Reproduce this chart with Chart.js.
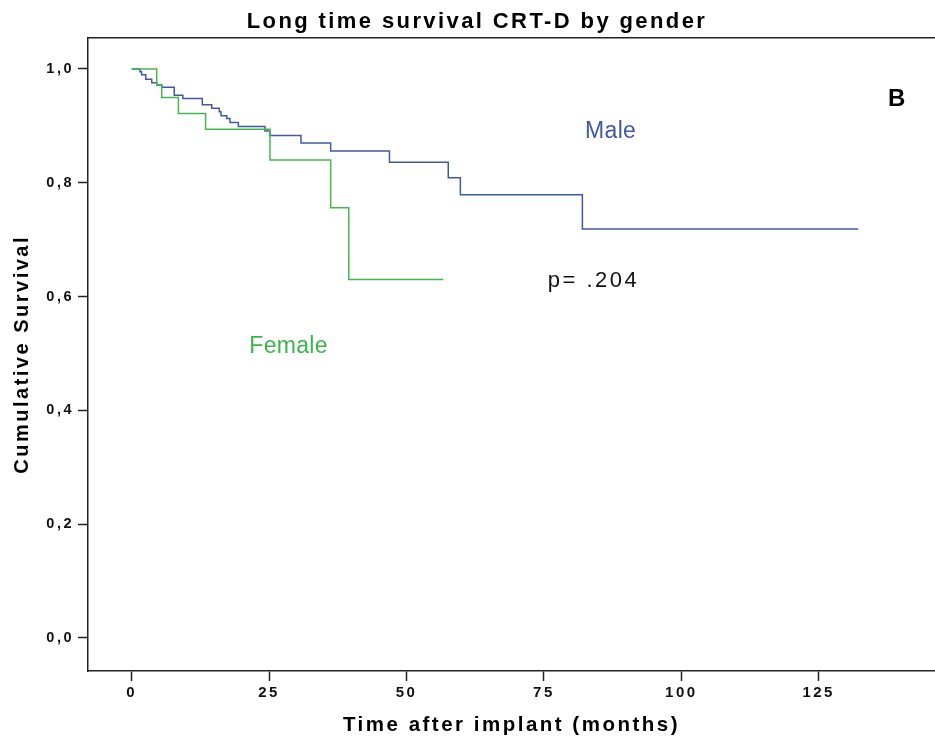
<!DOCTYPE html>
<html>
<head>
<meta charset="utf-8">
<title>Long time survival CRT-D by gender</title>
<script src="https://cdn.jsdelivr.net/npm/chart.js@4.4.1/dist/chart.umd.min.js"></script>
<style>
  html, body { margin: 0; padding: 0; background: #fff; }
  canvas { display: block; }
</style>
</head>
<body>
<canvas id="km" width="935" height="742"></canvas>
<script>
// Kaplan-Meier steps (months, cumulative survival)
const maleTime = [0, 1.5, 1.8, 2.55, 3.64, 4.55, 5.46, 7.75, 9.3, 12.85, 14.56, 15.94, 16.25, 17.29, 17.89, 19.4, 24.25, 25.16, 30.8, 36.2, 46.9, 57.6, 59.8, 82.0, 132.2];
const maleSurv = [1.0, 0.995, 0.99, 0.982, 0.976, 0.972, 0.968, 0.954, 0.948, 0.937, 0.931, 0.925, 0.918, 0.913, 0.906, 0.899, 0.891, 0.883, 0.87, 0.856, 0.836, 0.809, 0.779, 0.719, 0.719];

const femaleTime = [0, 4.55, 5.46, 8.5, 13.45, 25.16, 36.2, 39.5, 56.7];
const femaleSurv = [1.0, 0.972, 0.95, 0.922, 0.894, 0.84, 0.756, 0.63, 0.63];

const xTicks = [0, 25, 50, 75, 100, 125];
const yTicks = [0, 0.2, 0.4, 0.6, 0.8, 1.0];

const chartTitle = 'Long time survival CRT-D by gender';

const BLUE = '#4158a6';
const GREEN = '#45b74f';
const AXIS = '#222';

// text placed in data units: [text, x, y, colour, font, spacing]
const notes = [
  ['Male', 82.5, 0.889, '#4057a5', '23px "Liberation Sans", Arial', '0.3px'],
  ['Female', 21.4, 0.512, '#3bb54a', '23px "Liberation Sans", Arial', '0.3px'],
  ['p= .204', 75.7, 0.627, '#111', '22px "Liberation Sans", Arial', '2.5px'],
  ['B', 137.6, 0.946, '#000', 'bold 24px "Liberation Sans", Arial', '0px'],
];

const toPoints = (ts, ss) => ts.map((t, i) => ({ x: t, y: ss[i] }));

Chart.defaults.font.family = '"Liberation Sans", Arial, sans-serif';

const spssText = {
  id: 'spssText',
  beforeDraw(chart) {
    chart.ctx.letterSpacing = '2.5px';
  },
  afterDraw(chart) {
    const { ctx, chartArea, scales } = chart;
    ctx.save();
    // top frame line
    ctx.strokeStyle = AXIS;
    ctx.lineWidth = 1.5;
    ctx.beginPath();
    ctx.moveTo(chartArea.left, chartArea.top);
    ctx.lineTo(chartArea.right, chartArea.top);
    ctx.stroke();

    // chart title
    ctx.letterSpacing = '2.4px';
    ctx.font = 'bold 22px "Liberation Sans", Arial';
    ctx.fillStyle = '#000';
    ctx.textAlign = 'center';
    ctx.textBaseline = 'alphabetic';
    ctx.fillText(chartTitle, 477, 28);

    ctx.textAlign = 'left';
    ctx.textBaseline = 'middle';
    notes.forEach(([text, x, y, color, font, spacing]) => {
      ctx.letterSpacing = spacing;
      ctx.font = font;
      ctx.fillStyle = color;
      ctx.fillText(text, scales.x.getPixelForValue(x), scales.y.getPixelForValue(y));
    });
    ctx.restore();
  }
};

new Chart(document.getElementById('km'), {
  type: 'line',
  data: {
    datasets: [
      {
        label: 'Female',
        data: toPoints(femaleTime, femaleSurv),
        borderColor: GREEN,
        borderWidth: 1.5,
        stepped: 'before',
        pointRadius: 0,
        fill: false,
      },
      {
        label: 'Male',
        data: toPoints(maleTime, maleSurv),
        borderColor: BLUE,
        borderWidth: 1.5,
        stepped: 'before',
        pointRadius: 0,
        fill: false,
      },
    ],
  },
  options: {
    responsive: false,
    animation: false,
    devicePixelRatio: 1,
    layout: { padding: { top: 37.7 } },
    plugins: {
      legend: { display: false },
      tooltip: { enabled: false },
      title: { display: false },
    },
    scales: {
      x: {
        type: 'linear',
        min: -7.95,
        max: 146.16,
        afterBuildTicks: (s) => { s.ticks = xTicks.map((v) => ({ value: v })); },
        afterFit: (s) => { s.height = 71; },
        ticks: {
          color: '#111',
          font: { size: 15, weight: 'bold' },
          padding: 3,
          maxRotation: 0,
          autoSkip: false,
        },
        grid: { drawOnChartArea: false, tickLength: 10, tickWidth: 1.5, tickColor: AXIS },
        border: { color: AXIS, width: 1.5 },
        title: {
          display: true,
          text: 'Time after implant (months)',
          color: '#000',
          font: { size: 20.5, weight: 'bold' },
          padding: { top: 0, bottom: 4 },
        },
      },
      y: {
        min: -0.058,
        max: 1.055,
        afterBuildTicks: (s) => { s.ticks = yTicks.map((v) => ({ value: v })); },
        afterFit: (s) => { s.width = 88; },
        ticks: {
          color: '#111',
          font: { size: 14.5, weight: 'bold' },
          padding: 4,
          callback: (v) => v.toFixed(1).replace('.', ','),
        },
        grid: { drawOnChartArea: false, tickLength: 10, tickWidth: 1.5, tickColor: AXIS },
        border: { color: AXIS, width: 1.5 },
        title: {
          display: true,
          text: 'Cumulative Survival',
          color: '#000',
          font: { size: 20, weight: 'bold' },
          padding: { top: 10, bottom: 0 },
        },
      },
    },
  },
  plugins: [spssText],
});
</script>
</body>
</html>
